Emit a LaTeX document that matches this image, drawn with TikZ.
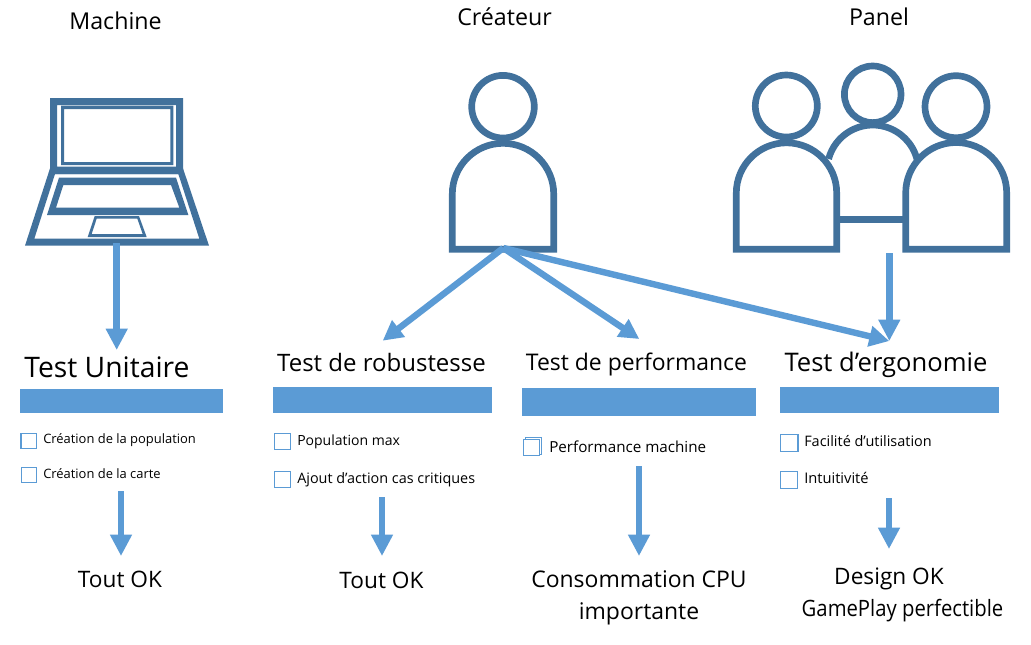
\documentclass[tikz,border=0pt]{standalone}
\usepackage{fontspec}
\setmainfont{Open Sans}
\newfontface\narrowface{Open Sans}[FakeStretch=0.9]
\usetikzlibrary{arrows.meta}
\definecolor{darkblue}{HTML}{41719C}
\definecolor{lightblue}{HTML}{5B9BD5}
\newcommand{\fs}[1]{\fontsize{#1}{#1}\selectfont}
\tikzset{
  iconline/.style={draw=darkblue,line width=5pt},
  downarrow/.style={draw=lightblue,line width=5pt,-{Triangle[length=16pt,width=15.5pt,fill=lightblue]}},
  slantarrow/.style={draw=lightblue,line width=4.8pt,-{Triangle[length=15pt,width=15pt,fill=lightblue]}},
  headerbar/.style={fill=lightblue,draw=none,inner sep=0pt,anchor=north west},
  checkbox/.style={draw=lightblue,line width=.8pt,fill=white,inner sep=0pt,minimum width=11.5pt,minimum height=11.5pt,anchor=north west},
  bigbox/.style={checkbox,minimum width=12.3pt,minimum height=12.3pt},
  role/.style={inner sep=0pt,anchor=base,font=\fs{17.4}},
  testtitle/.style={inner sep=0pt,anchor=base},
  item/.style={inner sep=0pt,anchor=base west},
  result/.style={inner sep=0pt,anchor=base,font=\fs{17}},
}
\begin{document}
\begin{tikzpicture}[x=.75pt,y=-.75pt]
\useasboundingbox[fill=white] (0,0) rectangle (1031,644);
% laptop
\begin{scope}[shift={(0,80)},x=.25pt,y=-.25pt]
\fill[darkblue,even odd rule] (150,54) rectangle (549,282) (171,75) rectangle (528,260);
\fill[darkblue,even odd rule] (183,77) rectangle (520,255) (192,87) rectangle (511,246);
\fill[darkblue,even odd rule] (150,265) -- (75,497) -- (627,497) -- (549,265) -- cycle (165,282) -- (103,476) -- (598,476) -- (535,282) -- cycle;
\fill[darkblue,even odd rule] (177,293) -- (141,405) -- (565,405) -- (528,293) -- cycle (190,315) -- (168,383) -- (538,383) -- (513,315) -- cycle;
\fill[darkblue,even odd rule] (284,408) -- (263,471) -- (440,471) -- (417,408) -- cycle (290,416) -- (275,462) -- (428,462) -- (412,416) -- cycle;
\end{scope}
% creator
\draw[iconline] (503,106.7) circle (31.3);
\draw[iconline] (452.3,249.3) -- (452.3,194) arc (180:360:50.7) -- (553.7,249.3) -- cycle;
% panel
\draw[iconline] (786.3,106) circle (31);
\draw[iconline] (956,106.7) circle (31);
\draw[iconline] (872.7,94.3) circle (28.3);
\draw[iconline] (828.6,158.9) arc (195:345:45.7);
\draw[iconline] (836.7,219.3) -- (905.7,219.3);
\draw[iconline] (736.3,249.3) -- (736.3,193) arc (180:360:50.2) -- (836.7,249.3) -- cycle;
\draw[iconline] (905.7,249.3) -- (905.7,193) arc (180:360:50.5) -- (1006.7,249.3) -- cycle;
% headings
\node[role] (machine) at (115.5,29) {Machine};
\node[role] (createur) at (504.5,25) {Créateur};
\node[role] (panel) at (879,25) {Panel};
% bars
\node[headerbar,minimum width=152.25pt,minimum height=18pt] (bar1) at (20,389) {};
\node[headerbar,minimum width=164.25pt,minimum height=19.5pt] (bar2) at (273,387) {};
\node[headerbar,minimum width=175.5pt,minimum height=21pt] (bar3) at (522,388) {};
\node[headerbar,minimum width=164.25pt,minimum height=19.5pt] (bar4) at (780,387) {};
% titles
\node[testtitle,font=\fs{21.2}] (t1) at (107,377) {Test Unitaire};
\node[testtitle,font=\fs{18}] (t2) at (381.5,371) {Test de robustesse};
\node[testtitle,font=\fs{17.2}] (t3) at (636.5,370) {Test de performance};
\node[testtitle,font=\fs{19.2}] (t4) at (886,371) {Test d’ergonomie};
% check boxes
\node[checkbox] (c1b) at (20,432.7) {};
\node[checkbox] (c1) at (20.7,433) {};
\node[checkbox] (c2) at (20.5,467) {};
\node[bigbox] (c3) at (273.5,433) {};
\node[bigbox] (c4) at (273.5,471) {};
\node[bigbox] (c5b) at (524.5,437.3) {};
\node[bigbox] (c5) at (522.5,438.5) {};
\node[bigbox] (c6b) at (782,434.3) {};
\node[bigbox] (c6) at (780.3,434.3) {};
\node[bigbox] (c7) at (780.3,471.3) {};
% items
\node[item,font=\fs{9.7}] (i1) at (43,443) {Création de la population};
\node[item,font=\fs{9.7}] (i2) at (43,478) {Création de la carte};
\node[item,font=\fs{10.5}] (i3) at (297,445) {Population max};
\node[item,font=\fs{10.8}] (i4) at (297,483) {Ajout d’action cas critiques};
\node[item,font=\fs{11.4}] (i5) at (549,452) {Performance machine};
\node[item,font=\fs{10.85}] (i6) at (804,446) {Facilité d’utilisation};
\node[item,font=\fs{11}] (i7) at (804,483) {Intuitivité};
% results
\node[result] (r1) at (120,587) {Tout OK};
\node[result] (r2) at (381.5,588) {Tout OK};
\node[result,font=\fs{17.2}] (r3a) at (639,587) {Consommation CPU};
\node[result,font=\fs{17.2}] (r3b) at (639,619) {importante};
\node[result] (r4a) at (889,584) {Design OK};
\node[result,font=\narrowface\fs{16.9}] (r4b) at (902.5,616) {GamePlay perfectible};
% connector ends
\coordinate (mA) at (116.7,243);
\coordinate (mB) at (116.7,350);
\coordinate (cA) at (503.3,248);
\coordinate (cL) at (382.7,340.7);
\coordinate (cM) at (639.3,339);
\coordinate (cR) at (889.3,341);
\coordinate (pA) at (889.3,253);
\coordinate (a1) at (121,491);
\coordinate (b1) at (121,556);
\coordinate (a2) at (382,497);
\coordinate (b2) at (382,556);
\coordinate (a3) at (639,466);
\coordinate (b3) at (639,556);
\coordinate (a4) at (889,498);
\coordinate (b4) at (889,549);
\draw[downarrow] (mA) -- (mB);
\draw[slantarrow] (cA) -- (cL);
\draw[slantarrow] (cA) -- (cM);
\draw[slantarrow] (cA) -- (cR);
\draw[downarrow] (pA) -- (cR);
\draw[downarrow] (a1) -- (b1);
\draw[downarrow] (a2) -- (b2);
\draw[downarrow] (a3) -- (b3);
\draw[downarrow] (a4) -- (b4);
\end{tikzpicture}
\end{document}
